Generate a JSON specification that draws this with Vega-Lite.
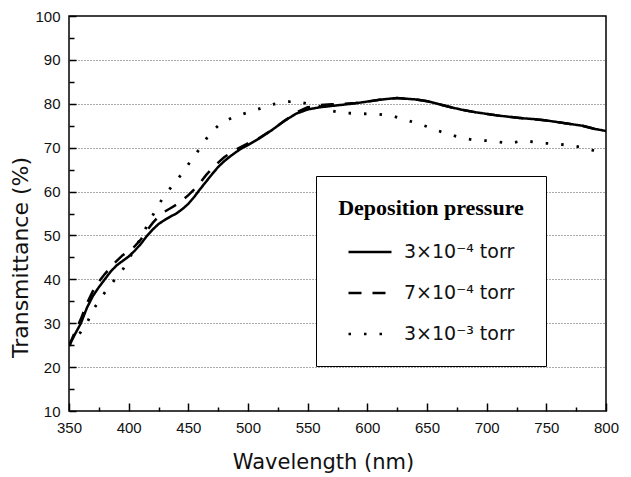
{
  "$schema": "https://vega.github.io/schema/vega-lite/v6.json",
  "width": 537,
  "height": 395,
  "autosize": "none",
  "padding": {"left": 69, "top": 16, "right": 25, "bottom": 66},
  "background": "white",
  "config": {
    "view": {"stroke": "black", "strokeWidth": 1.5},
    "font": "Liberation Sans",
    "axis": {"ticks": true, "tickColor": "black", "tickOpacity": 1, "tickWidth": 1.5, "tickCap": "butt", "zindex": 1}
  },
  "resolve": {"axis": {"x": "independent", "y": "independent"}},
  "datasets": {
    "a": [
      {"w":350,"t":24.8},{"w":355,"t":27.5},{"w":360,"t":30},{"w":365,"t":33.5},{"w":370,"t":36.2},{"w":375,"t":38.2},{"w":380,"t":40},{"w":385,"t":41.8},{"w":390,"t":43.2},{"w":395,"t":44.2},{"w":400,"t":45.2},{"w":405,"t":46.5},{"w":410,"t":48},{"w":415,"t":49.8},{"w":420,"t":51.3},{"w":425,"t":52.6},{"w":430,"t":53.5},{"w":435,"t":54.3},{"w":440,"t":55},{"w":445,"t":56},{"w":450,"t":57.2},{"w":455,"t":58.8},{"w":460,"t":60.6},{"w":465,"t":62.3},{"w":470,"t":64},{"w":475,"t":65.6},{"w":480,"t":66.9},{"w":485,"t":68},{"w":490,"t":69},{"w":495,"t":69.9},{"w":500,"t":70.6},{"w":510,"t":72.2},{"w":520,"t":74},{"w":530,"t":76},{"w":540,"t":77.7},{"w":550,"t":78.7},{"w":560,"t":79.2},{"w":570,"t":79.5},{"w":580,"t":79.8},{"w":590,"t":80.1},{"w":600,"t":80.5},{"w":610,"t":80.9},{"w":620,"t":81.2},{"w":625,"t":81.3},{"w":630,"t":81.2},{"w":640,"t":81},{"w":650,"t":80.6},{"w":660,"t":79.9},{"w":670,"t":79.2},{"w":680,"t":78.6},{"w":690,"t":78.1},{"w":700,"t":77.7},{"w":710,"t":77.3},{"w":720,"t":77},{"w":730,"t":76.7},{"w":740,"t":76.5},{"w":750,"t":76.2},{"w":760,"t":75.8},{"w":770,"t":75.4},{"w":780,"t":75},{"w":790,"t":74.3},{"w":800,"t":73.8}
    ],
    "b": [
      {"w":350,"t":24.8},{"w":355,"t":28},{"w":360,"t":31},{"w":365,"t":34.5},{"w":370,"t":37.3},{"w":375,"t":39.5},{"w":380,"t":41.2},{"w":385,"t":42.8},{"w":390,"t":44.2},{"w":395,"t":45.5},{"w":400,"t":46.5},{"w":405,"t":47.5},{"w":410,"t":49},{"w":415,"t":51},{"w":420,"t":52.8},{"w":425,"t":54.3},{"w":430,"t":55.4},{"w":435,"t":56.2},{"w":440,"t":57},{"w":445,"t":58},{"w":450,"t":59.2},{"w":455,"t":60.5},{"w":460,"t":62},{"w":465,"t":63.8},{"w":470,"t":65.3},{"w":475,"t":66.6},{"w":480,"t":67.8},{"w":490,"t":69.6},{"w":500,"t":71},{"w":510,"t":72.3},{"w":520,"t":74},{"w":530,"t":76},{"w":540,"t":78},{"w":550,"t":79.2},{"w":560,"t":79.7},{"w":570,"t":79.9},{"w":580,"t":80},{"w":590,"t":80.2},{"w":600,"t":80.5},{"w":610,"t":80.9},{"w":620,"t":81.2},{"w":625,"t":81.3},{"w":630,"t":81.2},{"w":640,"t":81},{"w":650,"t":80.6},{"w":660,"t":79.9},{"w":670,"t":79.2},{"w":680,"t":78.6},{"w":690,"t":78.1},{"w":700,"t":77.7},{"w":710,"t":77.3},{"w":720,"t":77},{"w":730,"t":76.7},{"w":740,"t":76.5},{"w":750,"t":76.2},{"w":760,"t":75.8},{"w":770,"t":75.4},{"w":780,"t":75},{"w":790,"t":74.3},{"w":800,"t":73.8}
    ],
    "c": [
      {"w":350,"t":25},{"w":355,"t":26.5},{"w":360,"t":28},{"w":365,"t":30},{"w":370,"t":33},{"w":375,"t":35},{"w":380,"t":37},{"w":385,"t":38.8},{"w":390,"t":40.5},{"w":395,"t":42.2},{"w":400,"t":44.5},{"w":405,"t":47},{"w":410,"t":49.3},{"w":415,"t":52},{"w":420,"t":54.5},{"w":425,"t":57},{"w":430,"t":59},{"w":435,"t":60.8},{"w":440,"t":62.5},{"w":445,"t":64.2},{"w":450,"t":66.2},{"w":455,"t":68},{"w":460,"t":70},{"w":465,"t":72},{"w":470,"t":73.7},{"w":475,"t":75},{"w":480,"t":76},{"w":490,"t":77.2},{"w":500,"t":78},{"w":510,"t":78.9},{"w":520,"t":79.8},{"w":530,"t":80.4},{"w":540,"t":80.6},{"w":550,"t":80},{"w":560,"t":79.4},{"w":570,"t":78.4},{"w":580,"t":77.9},{"w":590,"t":77.8},{"w":600,"t":77.7},{"w":610,"t":77.6},{"w":620,"t":77.3},{"w":630,"t":76.5},{"w":640,"t":75.7},{"w":650,"t":74.8},{"w":660,"t":73.8},{"w":670,"t":72.9},{"w":680,"t":72.2},{"w":690,"t":71.7},{"w":700,"t":71.6},{"w":710,"t":71.3},{"w":720,"t":71},{"w":730,"t":71.6},{"w":740,"t":71.3},{"w":750,"t":71},{"w":760,"t":70.8},{"w":770,"t":70.5},{"w":780,"t":70.1},{"w":790,"t":69.3},{"w":800,"t":69}
    ]
  },
  "layer": [
    {
      "data": {"name": "c"},
      "transform": [{"calculate": "'3×10⁻³ torr'", "as": "s"}],
      "mark": {"type": "line", "color": "black", "strokeWidth": 2.8, "clip": true},
      "encoding": {
        "x": {
          "field": "w", "type": "quantitative",
          "scale": {"domain": [350, 800], "nice": false, "zero": false},
          "axis": {
            "orient": "bottom", "offset": -8, "domain": false,
            "values": [350,400,450,500,550,600,650,700,750,800],
            "ticks": true, "tickSize": 8,
            "grid": false,
            "labelFontSize": 15, "labelColor": "#111", "labelPadding": 9, "labelFlush": false,
            "title": "Wavelength (nm)", "titleFont": "DejaVu Sans", "titleFontSize": 21, "titleFontWeight": "normal", "titleColor": "#111",
            "titleX": 254, "titleY": 48, "titleBaseline": "top"
          }
        },
        "y": {
          "field": "t", "type": "quantitative",
          "scale": {"domain": [10, 100], "nice": false, "zero": false},
          "axis": {
            "orient": "left", "offset": -7, "domain": false,
            "values": [10,20,30,40,50,60,70,80,90,100],
            "ticks": true, "tickSize": 7,
            "grid": false,
            "labelFontSize": 15, "labelColor": "#111", "labelPadding": 9,
            "title": "Transmittance (%)", "titleFont": "DejaVu Sans", "titleFontSize": 22, "titleFontWeight": "normal", "titleColor": "#111",
            "titleX": -44, "titleY": 241, "titleAngle": -90, "titleBaseline": "bottom", "titleAlign": "center"
          }
        },
        "strokeDash": {
          "field": "s", "type": "nominal",
          "scale": {"domain": ["3×10⁻⁴ torr", "7×10⁻⁴ torr", "3×10⁻³ torr"], "range": [[1, 0], [13, 11], [2.5, 13]]},
          "legend": {
            "orient": "none", "legendX": 247, "legendY": 160,
            "title": "Deposition pressure", "titleFont": "Liberation Serif", "titleFontSize": 22, "titleFontWeight": "bold", "titleColor": "black",
            "titleAnchor": "middle", "titleAlign": "center", "titlePadding": 9, "titleLimit": 400,
            "labelFont": "DejaVu Sans", "labelFontSize": 19, "labelColor": "#111", "labelOffset": 11,
            "symbolType": "stroke", "symbolSize": 1849, "symbolStrokeWidth": 2.5, "symbolStrokeColor": "black", "symbolOffset": 0,
            "padding": 22, "rowPadding": 8, "fillColor": "white", "strokeColor": "black"
          }
        }
      }
    },
    {
      "data": {"name": "b"},
      "transform": [{"calculate": "'7×10⁻⁴ torr'", "as": "s"}],
      "mark": {"type": "line", "color": "black", "strokeWidth": 2.5, "clip": true},
      "encoding": {
        "x": {
          "field": "w", "type": "quantitative",
          "axis": {
            "orient": "bottom", "offset": -4, "domain": false,
            "values": [375,425,475,525,575,625,675,725,775],
            "ticks": true, "tickSize": 4,
            "grid": false, "labels": false, "title": null
          }
        },
        "y": {
          "field": "t", "type": "quantitative",
          "axis": {
            "orient": "left", "offset": -5, "domain": false,
            "values": [15,25,35,45,55,65,75,85,95],
            "ticks": true, "tickSize": 5,
            "grid": false, "labels": false, "title": null
          }
        },
        "strokeDash": {"field": "s", "type": "nominal"}
      }
    },
    {
      "data": {"name": "a"},
      "transform": [{"calculate": "'3×10⁻⁴ torr'", "as": "s"}],
      "mark": {"type": "line", "color": "black", "strokeWidth": 2.5, "clip": true},
      "encoding": {
        "x": {"field": "w", "type": "quantitative", "axis": null},
        "y": {
          "field": "t", "type": "quantitative",
          "axis": {
            "orient": "left", "domain": false, "ticks": false, "labels": false, "title": null,
            "values": [20,30,40,50,60,70,80,90],
            "grid": true, "gridDash": [1, 2], "gridColor": "#555", "gridWidth": 1
          }
        },
        "strokeDash": {"field": "s", "type": "nominal"}
      }
    }
  ]
}
